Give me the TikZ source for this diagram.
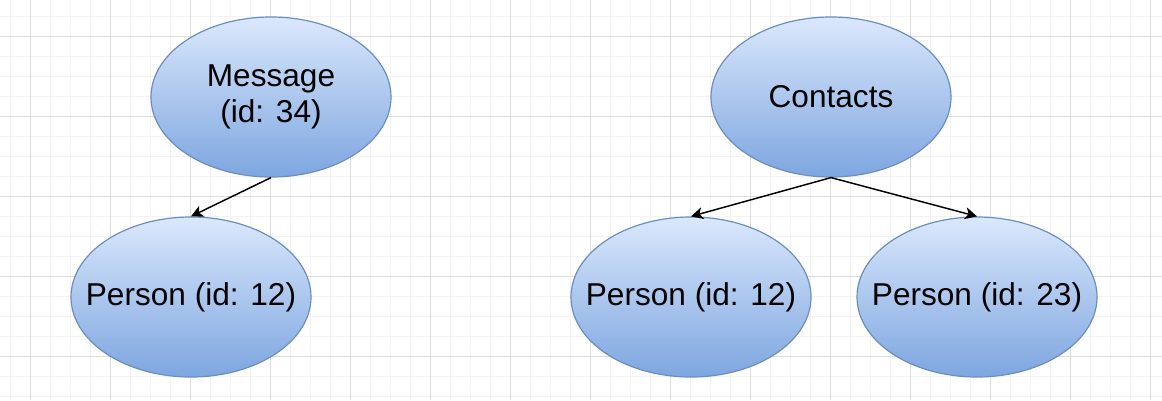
\documentclass[tikz,border=0pt]{standalone}
\usepackage{fontspec}
\setmainfont{Liberation Sans}
\usetikzlibrary{shapes.geometric,arrows.meta}
\definecolor{gridminor}{HTML}{F3F3F3}
\definecolor{gridmajor}{HTML}{DDDDDD}
\definecolor{fillTop}{HTML}{DAE8FC}
\definecolor{fillBot}{HTML}{7EA6E0}
\definecolor{strokeBlue}{HTML}{6C8EBF}
\tikzset{
  entity/.style={ellipse, draw=strokeBlue, line width=0.9pt,
    top color=fillTop, bottom color=fillBot,
    minimum width=180pt, minimum height=120pt, inner xsep=-25pt, inner ysep=0pt,
    align=center, font=\fontsize{23.7}{26.5}\selectfont},
  link/.style={draw=black, line width=1.1pt,
    -{Stealth[length=9pt,width=9pt,inset=2.5pt]}}
}
\begin{document}
\begin{tikzpicture}[x=0.75pt,y=-0.75pt]
\useasboundingbox (0,0) rectangle (1162,400);
\fill[white] (0,0) rectangle (1162,400);
\foreach \x in {10,30,...,1162} \draw[gridminor, line width=0.75pt] (\x,0) -- (\x,400);
\foreach \y in {16,36,...,400} \draw[gridminor, line width=0.75pt] (0,\y) -- (1162,\y);
\foreach \x in {30,110,...,1162} \draw[gridmajor, line width=0.75pt] (\x,0) -- (\x,400);
\foreach \y in {36,116,...,400} \draw[gridmajor, line width=0.75pt] (0,\y) -- (1162,\y);

\node[entity] (msg) at (271,97) {Message\\(id: 34)};
\node[entity] (p1) at (191,297) {Person (id: 12)};
\node[entity] (con) at (831,97) {Contacts};
\node[entity] (p2) at (691,297) {Person (id: 12)};
\node[entity] (p3) at (977,297) {Person (id: 23)};

\draw[link] (msg.south) -- (p1.north);
\draw[link] (con.south) -- (p2.north);
\draw[link] (con.south) -- (p3.north);
\end{tikzpicture}
\end{document}
